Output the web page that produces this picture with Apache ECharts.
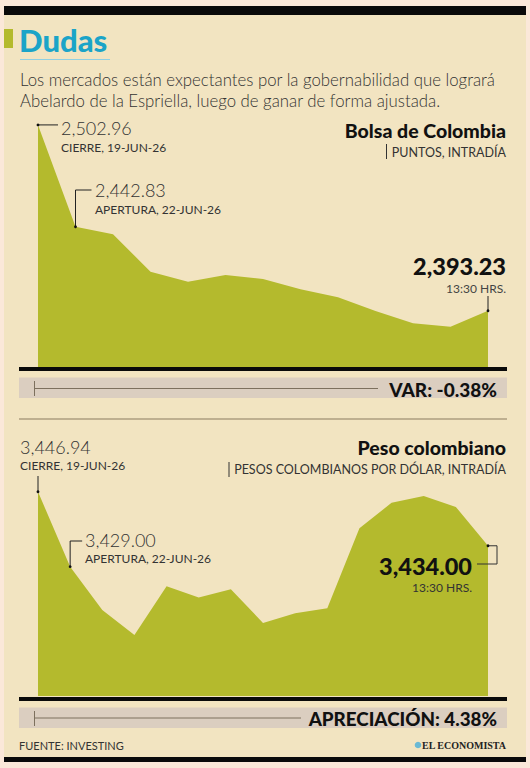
<!DOCTYPE html>
<html><head><meta charset="utf-8">
<script src="https://cdn.jsdelivr.net/npm/echarts@6/dist/echarts.min.js"></script>
<style>html,body{margin:0;padding:0;background:#fbe8d9}#c{width:530px;height:768px}</style>
</head><body><div id="c"></div>
<script>
// ---- data ----
const bolsaCategories = ['19-jun cierre','22-jun apertura','p3','p4','p5','p6','p7','p8','p9','p10','p11','p12','13:30'];
const bolsaValues = [2502.96, 2442.83, 2438.4, 2416.3, 2410.4, 2414.3, 2412.0, 2405.9, 2401.2, 2393.1, 2385.8, 2383.8, 2393.23];
const pesoCategories = ['19-jun cierre','22-jun apertura','p3','p4','p5','p6','p7','p8','p9','p10','p11','p12','p13','p14','13:30'];
const pesoValues = [3446.94, 3429.00, 3418.6, 3412.6, 3424.3, 3421.6, 3423.6, 3415.5, 3417.8, 3419.0, 3438.2, 3444.3, 3445.9, 3443.3, 3434.00];
const bolsaRange = [2360, 2510];
const pesoRange = [3398, 3450];
const bolsaLabels = {close: '2,502.96', open: '2,442.83', last: '2,393.23', var: 'VAR: -0.38%'};
const pesoLabels = {close: '3,446.94', open: '3,429.00', last: '3,434.00', var: 'APRECIACIÓN: 4.38%'};

const FONT = 'Lato, "Open Sans", sans-serif';
const AREA = '#b4ba2d';
const TXT = '#2a2a2a';
const chart = echarts.init(document.getElementById('c'), null, {renderer: 'svg'});

function axisPair(cats, range, gi) {
  return {
    x: {type: 'category', gridIndex: gi, data: cats, boundaryGap: false, show: false},
    y: {type: 'value', gridIndex: gi, min: range[0], max: range[1], show: false}
  };
}
const a0 = axisPair(bolsaCategories, bolsaRange, 0);
const a1 = axisPair(pesoCategories, pesoRange, 1);

chart.setOption({
  backgroundColor: '#f2e4c1',
  animation: false,
  grid: [
    {left: 38, right: 42, top: 113, height: 254},
    {left: 38, right: 42, top: 479, height: 217}
  ],
  xAxis: [a0.x, a1.x],
  yAxis: [a0.y, a1.y],
  series: [
    {type: 'line', xAxisIndex: 0, yAxisIndex: 0, data: bolsaValues, symbol: 'none',
     lineStyle: {width: 0}, areaStyle: {color: AREA, opacity: 1}, z: 2},
    {type: 'line', xAxisIndex: 1, yAxisIndex: 1, data: pesoValues, symbol: 'none',
     lineStyle: {width: 0}, areaStyle: {color: AREA, opacity: 1}, z: 2}
  ]
});

function txt(x, y, text, size, weight, align, color, family) {
  return {type: 'text', x: x, y: y, z: 100, style: {text: text, fontSize: size, fontWeight: weight,
    fontFamily: family || FONT, fill: color || TXT, align: align || 'left', verticalAlign: 'middle'}};
}
function rect(x, y, w, h, fill) {
  return {type: 'rect', z: 100, shape: {x: x, y: y, width: w, height: h}, style: {fill: fill}};
}
function pline(points, color, w) {
  return {type: 'polyline', z: 100, shape: {points: points}, style: {stroke: color || '#222', lineWidth: w || 1, fill: null}};
}
function dot(p) {
  return {type: 'circle', z: 101, shape: {cx: p[0], cy: p[1], r: 1.4}, style: {fill: '#111'}};
}

const P = (si, i, v) => chart.convertToPixel({seriesIndex: si}, [i, v]);
const b0 = P(0, 0, bolsaValues[0]);
const b1 = P(0, 1, bolsaValues[1]);
const bL = P(0, bolsaValues.length - 1, bolsaValues[bolsaValues.length - 1]);
const p0 = P(1, 0, pesoValues[0]);
const p1 = P(1, 1, pesoValues[1]);
const pL = P(1, pesoValues.length - 1, pesoValues[pesoValues.length - 1]);

const els = [
  // outer margins and black rules
  rect(0, 0, 530, 6, '#fbe8d9'), rect(0, 762, 530, 6, '#fbe8d9'),
  rect(0, 0, 4, 768, '#fbe8d9'), rect(526, 0, 4, 768, '#fbe8d9'),
  rect(4, 6, 522, 9, '#0a0a0a'), rect(4, 757, 522, 5, '#0a0a0a'),
  // title
  rect(4, 29, 9, 19, AREA),
  txt(19, 40, 'Dudas', 31, 900, 'left', '#1ba4c8'),
  pline([[20, 59.5], [110, 59.5]], '#8fd0e2', 1),
  txt(20, 79, 'Los mercados están expectantes por la gobernabilidad que logrará', 16.8, 300, 'left', '#333'),
  txt(20, 100, 'Abelardo de la Espriella, luego de ganar de forma ajustada.', 16.8, 300, 'left', '#333'),

  // ---- Bolsa chart ----
  txt(506, 130, 'Bolsa de Colombia', 19.5, 900, 'right', '#111'),
  pline([[386.5, 144], [386.5, 159]], '#333', 1),
  txt(506, 152, 'PUNTOS, INTRADÍA', 12.5, 400, 'right', '#333'),
  pline([b0, [b0[0] + 20, b0[1]]], '#222', 1), dot(b0),
  txt(61, 128, bolsaLabels.close, 18, 300, 'left', '#333'),
  txt(61, 147, 'CIERRE, 19-JUN-26', 12, 400, 'left', '#333'),
  pline([b1, [b1[0], 190], [b1[0] + 16, 190]], '#222', 1), dot(b1),
  txt(95, 190, bolsaLabels.open, 18, 300, 'left', '#333'),
  txt(95, 209, 'APERTURA, 22-JUN-26', 12, 400, 'left', '#333'),
  txt(506, 266, bolsaLabels.last, 23.5, 900, 'right', '#111'),
  txt(506, 288, '13:30 HRS.', 12, 400, 'right', '#444'),
  pline([[bL[0], 296], bL], '#222', 1), dot(bL),
  rect(19, 367, 488, 4, '#0a0a0a'),
  rect(19, 377.5, 488, 20.5, '#dbcec0'),
  pline([[34.5, 381], [34.5, 396]], '#7d705e', 1),
  pline([[34.5, 388.5], [378, 388.5]], '#7d705e', 1),
  txt(497, 389, bolsaLabels.var, 19, 900, 'right', '#111'),
  pline([[19, 419], [507, 419]], '#8b7b5e', 1),

  // ---- Peso chart ----
  txt(506, 447, 'Peso colombiano', 19.5, 900, 'right', '#111'),
  pline([[229, 462], [229, 477]], '#333', 1),
  txt(506, 469, 'PESOS COLOMBIANOS POR DÓLAR, INTRADÍA', 12.5, 400, 'right', '#333'),
  txt(20, 447, pesoLabels.close, 18, 300, 'left', '#333'),
  txt(20, 465, 'CIERRE, 19-JUN-26', 12, 400, 'left', '#333'),
  pline([[p0[0], 476], p0], '#222', 1), dot(p0),
  pline([p1, [p1[0], 541], [p1[0] + 12, 541]], '#222', 1), dot(p1),
  txt(85, 540, pesoLabels.open, 18, 300, 'left', '#333'),
  txt(85, 558, 'APERTURA, 22-JUN-26', 12, 400, 'left', '#333'),
  txt(472, 565.5, pesoLabels.last, 23.5, 900, 'right', '#111'),
  txt(472, 587.5, '13:30 HRS.', 12, 400, 'right', '#333'),
  pline([pL, [pL[0] + 9, pL[1]], [pL[0] + 9, 564], [477, 564]], '#333', 1), dot(pL),
  rect(19, 697, 488, 4, '#0a0a0a'),
  rect(19, 707.5, 488, 20.5, '#dbcec0'),
  pline([[34.5, 711], [34.5, 726]], '#7d705e', 1),
  pline([[34.5, 718], [301, 718]], '#7d705e', 1),
  txt(497, 718, pesoLabels.var, 18.8, 900, 'right', '#111'),

  // footer
  txt(19, 745, 'FUENTE: INVESTING', 11, 400, 'left', '#333'),
  {type: 'circle', z: 100, shape: {cx: 418, cy: 745, r: 3.3}, style: {fill: '#6ab9d4'}},
  txt(506, 745.5, 'EL ECONOMISTA', 10, 700, 'right', '#222', '"Liberation Serif", "DejaVu Serif", serif')
];
chart.setOption({graphic: {elements: els}});
</script>
</body></html>
